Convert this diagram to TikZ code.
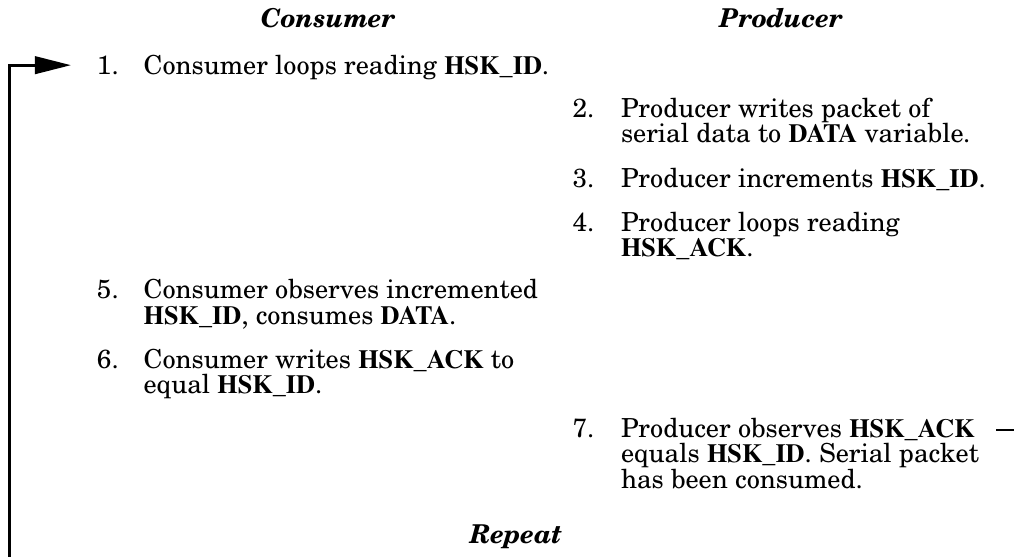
\documentclass[tikz,border=0pt]{standalone}
\newif\ifnctimes
\IfFileExists{t1pnc.fd}{%
  \usepackage[T1]{fontenc}\renewcommand\rmdefault{pnc}%
  \IfFileExists{t1ptm.fd}{\nctimestrue}{}%
}{%
  \usepackage{fontspec}\setmainfont{Liberation Serif}%
}
\ifnctimes
  \newcommand\hb[1]{{\fontfamily{ptm}\fontseries{b}\selectfont #1}}
\else
  \newcommand\hb[1]{{\bfseries #1}}
\fi
\usetikzlibrary{arrows.meta}
\begin{document}
\begin{tikzpicture}[x=0.385pt,y=-0.385pt,
  every node/.style={inner sep=0pt, outer sep=0pt, font=\fontsize{10.1}{9.8}\selectfont},
  num/.style={anchor=base west},
  % multi-line nodes: anchor is at the baseline of the LAST line
  txt/.style={anchor=base west, align=left},
  head/.style={anchor=base, font=\fontsize{10}{12}\selectfont\bfseries\itshape},
  loopline/.style={line width=1.1pt, line join=miter, -{Triangle[length=13.9pt,width=6.7pt]}}]
\useasboundingbox (0,0) rectangle (1014,556);
\clip (0,0) rectangle (1014,556);
% headers
\node[head] (hc) at (328,27) {Consumer};
\node[head] (hp) at (781,27) {Producer};
\node[head] (rep) at (516,543) {Repeat};
% consumer column
\node[num] (n1) at (97,74) {1.};
\node[txt] (t1) at (143.6,74) {Consumer loops reading \hb{HSK\_ID}.};
\node[num] (n5) at (97,298.5) {5.};
\node[txt] (t5) at (143.6,324) {Consumer observes incremented\\\hb{HSK\_ID}, consumes \hb{DATA}.};
\node[num] (n6) at (97,368) {6.};
\node[txt] (t6) at (143.6,393.5) {Consumer writes \hb{HSK\_ACK} to\\equal \hb{HSK\_ID}.};
% producer column
\node[num] (n2) at (572.5,117) {2.};
\node[txt] (t2) at (621,142.5) {Producer writes packet of\\serial data to \hb{DATA} variable.};
\node[num] (n3) at (572.5,187) {3.};
\node[txt] (t3) at (621,187) {Producer increments \hb{HSK\_ID}.};
\node[num] (n4) at (572.5,231) {4.};
\node[txt] (t4) at (621,256.5) {Producer loops reading\\\hb{HSK\_ACK}.};
\node[num] (n7) at (572.5,437) {7.};
\node[txt] (t7) at (621,488) {Producer observes \hb{HSK\_ACK}\\equals \hb{HSK\_ID}. Serial packet\\has been consumed.};
% repeat loop
\coordinate (s7) at (996,430);
\coordinate (b) at (9.5,600);
\draw[loopline, shorten >=10pt] (s7) -- ++(60,0) |- (b) |- (n1.west);
\end{tikzpicture}
\end{document}
